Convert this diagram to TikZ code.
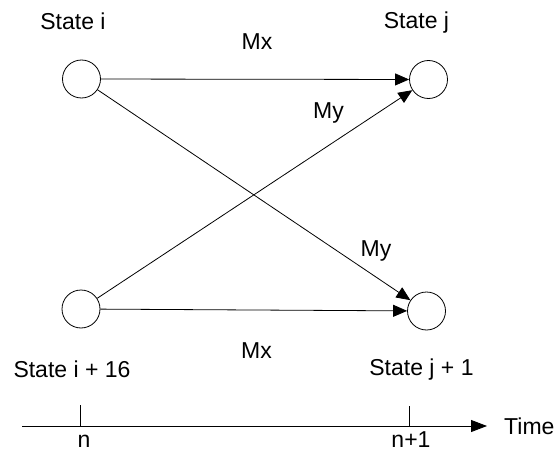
\documentclass[tikz,border=0pt]{standalone}
\usepackage{fontspec}
\setmainfont{Liberation Sans}
\usetikzlibrary{arrows.meta}
\begin{document}
\begin{tikzpicture}[x=1pt,y=-1pt,
  state/.style={draw,circle,minimum size=38pt,inner sep=0pt,line width=0.8pt},
  lbl/.style={font=\fontsize{23}{27}\selectfont,inner sep=0pt,anchor=base},
  conn/.style={line width=0.8pt,-{Triangle[length=14pt,width=12pt]}}]
\useasboundingbox (0,0) rectangle (557,452);
\node[state] (a) at (81.5,79) {};
\node[state] (b) at (428.5,79.5) {};
\node[state] (c) at (81,309) {};
\node[state] (d) at (426.5,311) {};
\draw[conn] (a) -- (b);
\draw[conn] (c) -- (d);
\draw[conn] (c) -- (b);
\draw[conn] (a) -- (d);
\node[lbl] (si) at (73,30) {State i};
\node[lbl] (sj) at (416.5,29) {State j};
\node[lbl] (mx1) at (257,50) {Mx};
\node[lbl] (my1) at (328.5,118) {My};
\node[lbl] (my2) at (376,256) {My};
\node[lbl] (mx2) at (256.5,358) {Mx};
\node[lbl] (si16) at (72,377) {State i + 16};
\node[lbl] (sj1) at (421.5,375) {State j + 1};
\coordinate (t0) at (22,426);
\coordinate (t1) at (487,426);
\draw[line width=0.8pt,-{Triangle[length=16pt,width=12pt]}] (t0) -- (t1);
\node[lbl,anchor=base west] (time) at (504,434) {Time};
\coordinate (n0) at (80,405);
\coordinate (n0b) at (80,426);
\coordinate (n1) at (409,406);
\coordinate (n1b) at (409,426);
\draw[line width=0.8pt] (n0) -- (n0b);
\draw[line width=0.8pt] (n1) -- (n1b);
\node[lbl] (n) at (84,447) {n};
\node[lbl] (np) at (411,447) {n+1};
\end{tikzpicture}
\end{document}
